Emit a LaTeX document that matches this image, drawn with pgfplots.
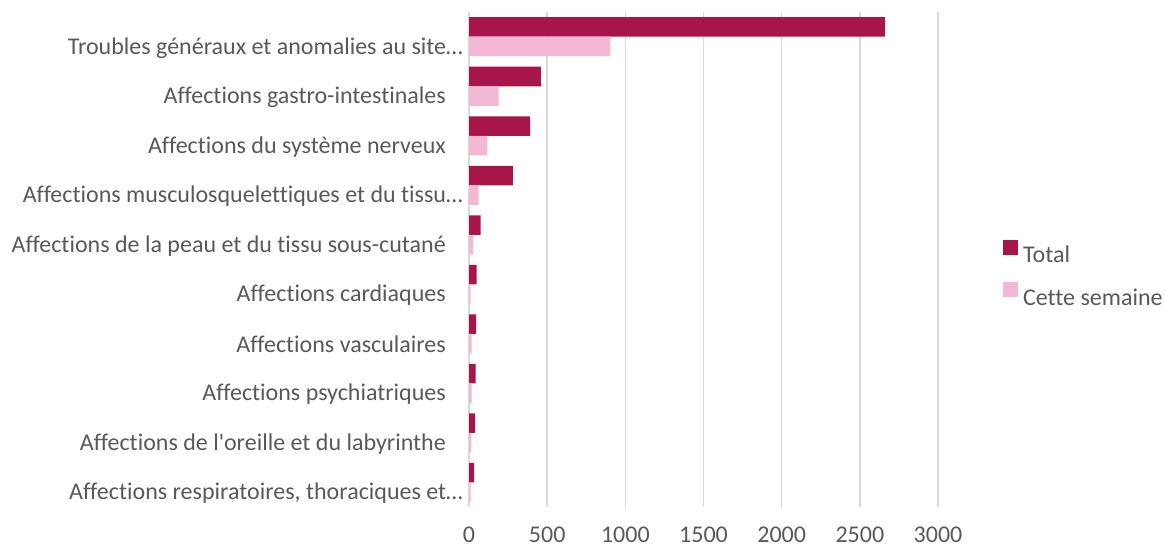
\documentclass[border=0pt]{standalone}
\usepackage{fontspec}
\setmainfont{Carlito}[Ligatures={TeXOff,CommonOff}]
\usepackage{pgfplots}
\pgfplotsset{compat=1.18}
\definecolor{tot}{HTML}{A8154A}
\definecolor{wk}{HTML}{F2B8D4}
\definecolor{txt}{HTML}{595959}
\definecolor{gridc}{HTML}{D9D9D9}
\begin{document}
\begin{tikzpicture}
\path[use as bounding box] (0,0) rectangle (1165bp,545bp);
\begin{axis}[
  at={(469bp,38bp)}, anchor=south west,
  scale only axis, width=469bp, height=495bp,
  xbar, bar width=19.5bp,
  xmin=0, xmax=3000, ymin=-0.5, ymax=9.5, y dir=reverse,
  axis line style={draw=none},
  major tick length=0pt,
  xtick={0,500,...,3000},
  xmajorgrids, grid style={gridc, line width=1.5bp},
  ytick={0,...,9},
  yticklabels={
    Troubles généraux et anomalies au site…,
    Affections gastro-intestinales\hspace*{17bp},
    Affections du système nerveux\hspace*{17bp},
    Affections musculosquelettiques et du tissu…,
    Affections de la peau et du tissu sous-cutané\hspace*{17bp},
    Affections cardiaques\hspace*{17bp},
    Affections vasculaires\hspace*{17bp},
    Affections psychiatriques\hspace*{17bp},
    Affections de l'oreille et du labyrinthe\hspace*{17bp},
    {Affections respiratoires, thoraciques et…}},
  font=\fontsize{24bp}{28bp}\selectfont,
  every tick label/.append style={text=txt, font=\fontsize{24bp}{28bp}\selectfont},
  /pgf/number format/assume math mode=true,
  /pgf/number format/1000 sep={},
  yticklabel style={inner sep=0pt, xshift=-6bp, yshift=-11bp},
  xticklabel style={inner sep=0pt, anchor=north, yshift=-20bp},
  scaled x ticks=false,
  legend cell align=left,
  legend style={at={(1.132,0.472)}, anchor=west, draw=none, fill=none,
    text=txt, font=\fontsize{24bp}{28bp}\selectfont, row sep=18bp,
    nodes={inner sep=0pt},
    /tikz/every odd column/.style={column sep=5bp}},
]
\addplot[fill=tot, draw=none, bar shift=9.75bp,
  legend image code/.code={\fill[tot] (0bp,0.5bp) rectangle (15bp,15.5bp);}]
  coordinates {(2660,0) (459,1) (391,2) (280,3) (75,4) (49,5) (45,6) (43,7) (39,8) (32,9)};
\addplot[fill=wk, draw=none, bar shift=-9.75bp,
  legend image code/.code={\fill[wk] (0bp,0.5bp) rectangle (15bp,15.5bp);}]
  coordinates {(905,0) (190,1) (118,2) (62,3) (24,4) (11,5) (17,6) (17,7) (15,8) (11,9)};
\legend{Total, Cette semaine}
\end{axis}
\end{tikzpicture}
\end{document}
